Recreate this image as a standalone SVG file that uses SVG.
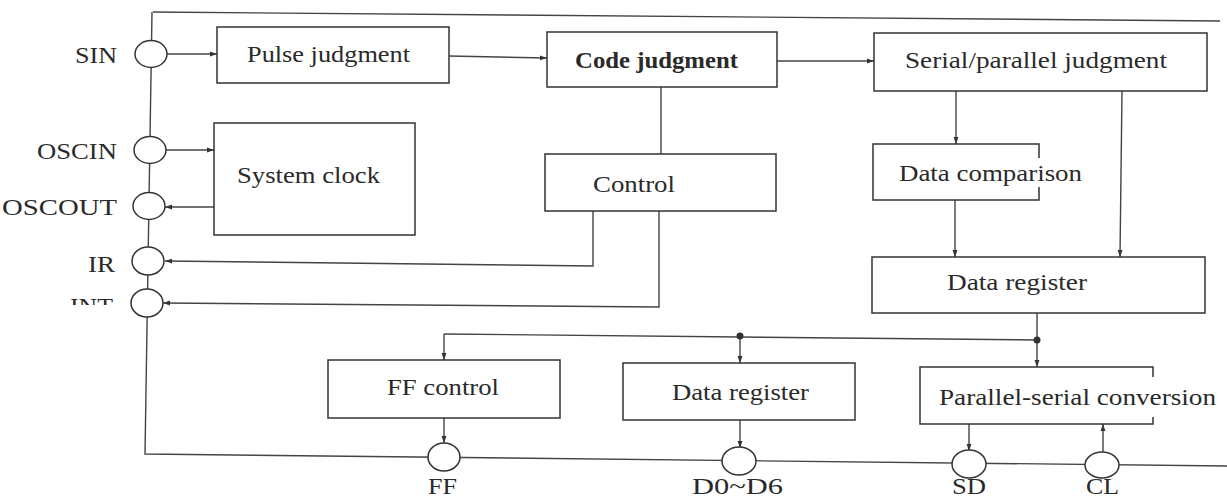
<svg xmlns="http://www.w3.org/2000/svg" width="1227" height="500" viewBox="0 0 1227 500">
<defs>
<style>
.box{fill:#fff;stroke:#333;stroke-width:1.5}
.ln{fill:none;stroke:#444;stroke-width:1.4}
.pin{fill:#fff;stroke:#333;stroke-width:1.5}
.t{font-family:"Liberation Serif","Times New Roman",serif;font-size:24px;fill:#2a2a2a}
.b{font-weight:bold}
.dot{fill:#333}
</style>
<marker id="ah" viewBox="0 0 10 10" refX="10" refY="5" markerWidth="7" markerHeight="7" markerUnits="userSpaceOnUse" orient="auto">
<path d="M0,1.5 L10,5 L0,8.5 Z" fill="#333"/>
</marker>
<clipPath id="intclip"><rect x="60" y="290" width="70" height="15"/></clipPath>
</defs>
<rect width="1227" height="500" fill="#fff"/>

<g id="frame">
<path class="ln" d="M153,12 L1220,21"/>
<path class="ln" d="M152,12 L145,454 L1227,466"/>
</g>

<g id="connectors">
<path class="ln" marker-end="url(#ah)" d="M166,54 H217"/>
<path class="ln" marker-end="url(#ah)" d="M166,150 H214"/>
<path class="ln" marker-end="url(#ah)" d="M214,207 H165"/>
<path class="ln" marker-end="url(#ah)" d="M449,56 L547,58"/>
<path class="ln" marker-end="url(#ah)" d="M777,61 H874"/>
<path class="ln" d="M661,87 V154"/>
<path class="ln" marker-end="url(#ah)" d="M593,211 V266 L165,261"/>
<path class="ln" marker-end="url(#ah)" d="M659,211 V307 L163,303"/>
<path class="ln" marker-end="url(#ah)" d="M956,91 V144"/>
<path class="ln" marker-end="url(#ah)" d="M955,200 V257"/>
<path class="ln" marker-end="url(#ah)" d="M1122,91 L1120,257"/>
<path class="ln" d="M1037,313 V340 L444,334"/>
<path class="ln" marker-end="url(#ah)" d="M444,334 V360"/>
<path class="ln" marker-end="url(#ah)" d="M740,336 V363"/>
<path class="ln" marker-end="url(#ah)" d="M1037,340 V367"/>
<path class="ln" marker-end="url(#ah)" d="M444,418 V443"/>
<path class="ln" marker-end="url(#ah)" d="M740,420 V448"/>
<path class="ln" marker-end="url(#ah)" d="M969,424 V451"/>
<path class="ln" marker-end="url(#ah)" d="M1103,452 V424"/>
<circle class="dot" cx="740" cy="336" r="3.5"/>
<circle class="dot" cx="1037" cy="340" r="3.5"/>
</g>

<g id="pin-SIN"><ellipse class="pin" cx="151" cy="54" rx="16" ry="13.5"/><text class="t" x="75" y="63" textLength="42" lengthAdjust="spacingAndGlyphs">SIN</text></g>
<g id="pin-OSCIN"><ellipse class="pin" cx="150" cy="150" rx="16" ry="13.5"/><text class="t" x="37" y="159" textLength="80" lengthAdjust="spacingAndGlyphs">OSCIN</text></g>
<g id="pin-OSCOUT"><ellipse class="pin" cx="149" cy="206" rx="16" ry="13.5"/><text class="t" x="2" y="215" textLength="115" lengthAdjust="spacingAndGlyphs">OSCOUT</text></g>
<g id="pin-IR"><ellipse class="pin" cx="148" cy="261" rx="16" ry="14"/><text class="t" x="88" y="272" textLength="27" lengthAdjust="spacingAndGlyphs">IR</text></g>
<g id="pin-INT"><ellipse class="pin" cx="147" cy="303" rx="16" ry="14"/><text class="t" x="70" y="314" textLength="43" lengthAdjust="spacingAndGlyphs" clip-path="url(#intclip)">INT</text></g>

<g id="pulse-judgment"><rect class="box" x="217" y="27" width="232" height="56"/><text class="t" x="247" y="62" textLength="163" lengthAdjust="spacingAndGlyphs">Pulse judgment</text></g>
<g id="code-judgment"><rect class="box" x="547" y="32" width="230" height="55"/><text class="t b" x="575" y="68" textLength="163" lengthAdjust="spacingAndGlyphs">Code judgment</text></g>
<g id="serial-parallel-judgment"><rect class="box" x="874" y="33" width="333" height="58"/><text class="t" x="905" y="68" textLength="262" lengthAdjust="spacingAndGlyphs">Serial/parallel judgment</text></g>
<g id="system-clock"><rect class="box" x="214" y="123" width="201" height="112"/><text class="t" x="237" y="183" textLength="143" lengthAdjust="spacingAndGlyphs">System clock</text></g>
<g id="control"><rect class="box" x="545" y="154" width="231" height="57"/><text class="t" x="593" y="192" textLength="82" lengthAdjust="spacingAndGlyphs">Control</text></g>
<g id="data-comparison"><path class="box" style="fill:none" d="M1039,158 V144 H873 V200 H1039 V187"/><text class="t" x="899" y="181" textLength="183" lengthAdjust="spacingAndGlyphs">Data comparison</text></g>
<g id="data-register-1"><rect class="box" x="872" y="257" width="333" height="56"/><text class="t" x="947" y="290" textLength="140" lengthAdjust="spacingAndGlyphs">Data register</text></g>
<g id="ff-control"><rect class="box" x="328" y="360" width="232" height="58"/><text class="t" x="387" y="395" textLength="112" lengthAdjust="spacingAndGlyphs">FF control</text></g>
<g id="data-register-2"><rect class="box" x="623" y="363" width="232" height="57"/><text class="t" x="672" y="400" textLength="137" lengthAdjust="spacingAndGlyphs">Data register</text></g>
<g id="parallel-serial-conversion"><path class="box" style="fill:none" d="M1153,377 V367 H920 V424 H1153 V417"/><text class="t" x="939" y="405" textLength="277" lengthAdjust="spacingAndGlyphs">Parallel-serial conversion</text></g>

<g id="pin-FF"><ellipse class="pin" cx="444" cy="457" rx="16" ry="14"/><text class="t" x="428" y="494" textLength="29" lengthAdjust="spacingAndGlyphs">FF</text></g>
<g id="pin-D0-D6"><ellipse class="pin" cx="739" cy="461" rx="17" ry="14"/><text class="t" x="692" y="494" textLength="91" lengthAdjust="spacingAndGlyphs">D0~D6</text></g>
<g id="pin-SD"><ellipse class="pin" cx="969" cy="464" rx="17" ry="14"/><text class="t" x="952" y="494" textLength="34" lengthAdjust="spacingAndGlyphs">SD</text></g>
<g id="pin-CL"><ellipse class="pin" cx="1102" cy="465" rx="17" ry="13"/><text class="t" x="1086" y="494" textLength="33" lengthAdjust="spacingAndGlyphs">CL</text></g>
</svg>
